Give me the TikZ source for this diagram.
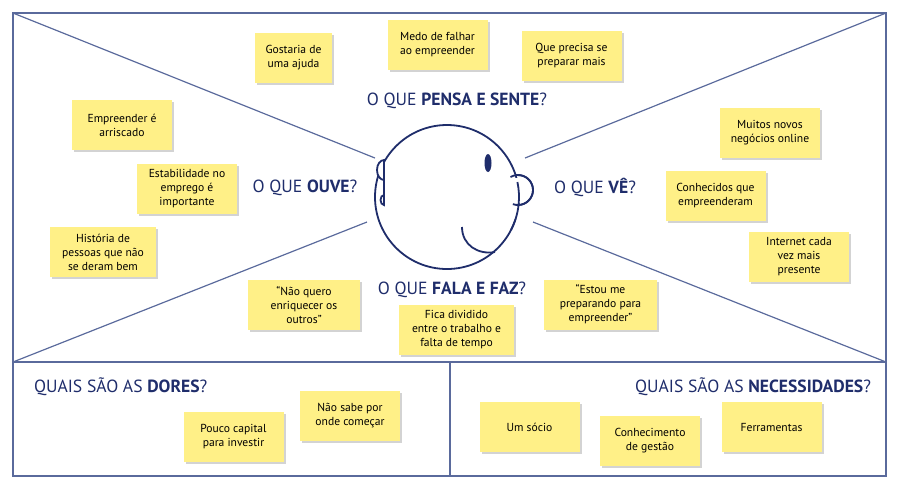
\documentclass[tikz,border=0pt]{standalone}
\usepackage{fontspec}
\setmainfont{PT Sans}
\usetikzlibrary{shadows}
\definecolor{navy}{HTML}{1F2D6B}
\definecolor{frame}{HTML}{5A6A9C}
\definecolor{sticky}{HTML}{FFF087}
\begin{document}
\begin{tikzpicture}[x=0.5pt,y=-0.5pt]
\tikzset{note/.style={fill=sticky,align=center,font=\fontsize{5.8}{7}\selectfont,
  minimum width=50pt,minimum height=25pt,inner sep=1pt,
  drop shadow={opacity=0.35,shadow xshift=1pt,shadow yshift=-1pt,fill=gray}},
  head/.style={text=navy,font=\fontsize{8.8}{10}\selectfont},
  line/.style={draw=frame,line width=0.6pt}}
\useasboundingbox (0,0) rectangle (905,495);
% frame
\coordinate (tl) at (13,13); \coordinate (tr) at (886,13);
\coordinate (ml) at (13,362); \coordinate (mr) at (886,362);
\coordinate (bl) at (13,476); \coordinate (br) at (886,476);
\coordinate (mt) at (450,362); \coordinate (mb) at (450,476);
\draw[line] (tl) rectangle (br);
\draw[line] (ml) -- (mr);
\draw[line] (mt) -- (mb);
\coordinate (ftl) at (375,158); \coordinate (ftr) at (525,158);
\coordinate (fbl) at (367,222); \coordinate (fbr) at (533,222);
\draw[line] (tl) -- (ftl);
\draw[line] (tr) -- (ftr);
\draw[line] (ml) -- (fbl);
\draw[line] (mr) -- (fbr);
% face
\begin{scope}[draw=navy,line width=0.9pt]
\draw[fill=white] (518,190) circle (15);
\draw[fill=white] (447,197) circle (72);
\fill[white] (506,178) rectangle (520,203);
\draw (447,197) ++(6:72) arc (6:-12:72);
\draw (447,197) ++(18:72) arc (18:27:72);
\draw (518,190) ++(110:15) arc (110:-120:15);
\fill[navy] (488,163) ellipse (3.5 and 9);
\draw[fill=white] (384,180) arc (90:270:7 and 10) -- (384,195) arc (270:90:3.5 and 5) -- cycle;
\draw (462,227) .. controls (462,245) and (478,255) .. (495,252);
\end{scope}
% headings
\node[head] (pensa) at (457,101) {O QUE \textbf{PENSA E SENTE}?};
\node[head] (ouve) at (305,188) {O QUE \textbf{OUVE}?};
\node[head] (ve) at (595,187) {O QUE \textbf{VÊ}?};
\node[head] (fala) at (452,290) {O QUE \textbf{FALA E FAZ}?};
\node[head,anchor=west] (dores) at (27,387) {QUAIS SÃO AS \textbf{DORES}?};
\node[head,anchor=east] (necess) at (878,387) {QUAIS SÃO AS \textbf{NECESSIDADES}?};
% notes
\node[note,minimum width=38.5pt] (ajuda) at (293.5,57.5) {Gostaria de\\uma ajuda};
\node[note] (medo) at (437.5,45) {Medo de falhar\\ao empreender};
\node[note] (prepara) at (571.5,56) {Que precisa se\\preparar mais};
\node[note] (arrisc) at (122,125) {Empreender é\\arriscado};
\node[note] (estab) at (187,189) {Estabilidade no\\emprego é\\importante};
\node[note,minimum width=53pt] (hist) at (103,252) {História de\\pessoas que não\\se deram bem};
\node[note] (online) at (770,133) {Muitos novos\\negócios online};
\node[note] (conhec) at (715.5,196) {Conhecidos que\\empreenderam};
\node[note] (internet) at (799,256.5) {Internet cada\\vez mais\\presente};
\node[note,minimum width=56pt] (enriq) at (304,305) {“Não quero\\enriquecer os\\outros”};
\node[note,minimum width=57.5pt] (divid) at (456.5,330) {Fica dividido\\entre o trabalho e\\falta de tempo};
\node[note,minimum width=56.5pt] (estou) at (600.5,304.5) {“Estou me\\preparando para\\empreender”};
\node[note] (capital) at (233.5,436.5) {Pouco capital\\para investir};
\node[note] (sabe) at (350,415.5) {Não sabe por\\onde começar};
\node[note] (socio) at (529.5,427) {Um sócio};
\node[note] (gestao) at (650,441) {Conhecimento\\de gestão};
\node[note] (ferram) at (771.5,427) {Ferramentas};
\end{tikzpicture}
\end{document}
